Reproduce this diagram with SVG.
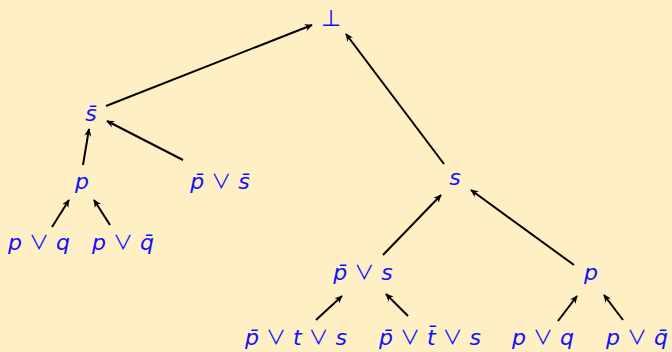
<svg xmlns="http://www.w3.org/2000/svg" width="672" height="352" viewBox="0 0 672 352">
<defs>
<marker id="ah" viewBox="0 0 10 10" refX="9" refY="5" markerWidth="8" markerHeight="8" markerUnits="userSpaceOnUse" orient="auto">
<path d="M0,0.5 L10,5 L0,9.5 L3,5 Z" fill="#000"/>
</marker>
<style>
.t{font-family:"DejaVu Sans",sans-serif;font-size:22px;fill:#1010ff;text-anchor:middle}
.i{font-style:oblique}
.o{font-family:"Noto Sans CJK JP","DejaVu Sans",sans-serif;font-size:20px}
.e{stroke:#000;stroke-width:2;fill:none;marker-end:url(#ah)}
</style>
</defs>
<rect width="672" height="352" fill="#FEEFC4"/>
<g id="edges">
<line class="e" x1="106" y1="106" x2="312" y2="25"/>
<line class="e" x1="444" y1="164" x2="346" y2="34"/>
<line class="e" x1="183" y1="160" x2="107" y2="121"/>
<line class="e" x1="83" y1="165" x2="89" y2="129"/>
<line class="e" x1="52" y1="227" x2="69" y2="200"/>
<line class="e" x1="110" y1="225" x2="94" y2="200"/>
<line class="e" x1="383" y1="255" x2="441" y2="195"/>
<line class="e" x1="574" y1="265" x2="471" y2="190"/>
<line class="e" x1="316" y1="320" x2="342" y2="296"/>
<line class="e" x1="408" y1="316" x2="386" y2="294"/>
<line class="e" x1="558" y1="321" x2="577" y2="296"/>
<line class="e" x1="623" y1="320" x2="604" y2="295"/>
</g>
<g id="bot"><text class="t" x="331" y="26" style="font-size:23px">⊥</text></g>
<g id="sbar"><text class="t" x="91" y="121"><tspan class="i">s̄</tspan></text></g>
<g id="pL"><text class="t" x="82" y="189"><tspan class="i">p</tspan></text></g>
<g id="pbar_sbar"><text class="t" x="220" y="189"><tspan class="i">p̄</tspan> <tspan class="o">∨</tspan> <tspan class="i">s̄</tspan></text></g>
<g id="pq1"><text class="t" x="39" y="250"><tspan class="i">p</tspan> <tspan class="o">∨</tspan> <tspan class="i">q</tspan></text></g>
<g id="pqbar1"><text class="t" x="123" y="250"><tspan class="i">p</tspan> <tspan class="o">∨</tspan> <tspan class="i">q̄</tspan></text></g>
<g id="s"><text class="t" x="455" y="185"><tspan class="i">s</tspan></text></g>
<g id="pbar_s"><text class="t" x="363" y="280"><tspan class="i">p̄</tspan> <tspan class="o">∨</tspan> <tspan class="i">s</tspan></text></g>
<g id="pR"><text class="t" x="591" y="280"><tspan class="i">p</tspan></text></g>
<g id="ptS"><text class="t" x="296" y="345"><tspan class="i">p̄</tspan> <tspan class="o">∨</tspan> <tspan class="i">t</tspan> <tspan class="o">∨</tspan> <tspan class="i">s</tspan></text></g>
<g id="ptbarS"><text class="t" x="430" y="345"><tspan class="i">p̄</tspan> <tspan class="o">∨</tspan> <tspan class="i">t̄</tspan> <tspan class="o">∨</tspan> <tspan class="i">s</tspan></text></g>
<g id="pq2"><text class="t" x="543" y="345"><tspan class="i">p</tspan> <tspan class="o">∨</tspan> <tspan class="i">q</tspan></text></g>
<g id="pqbar2"><text class="t" x="637" y="345"><tspan class="i">p</tspan> <tspan class="o">∨</tspan> <tspan class="i">q̄</tspan></text></g>
</svg>
